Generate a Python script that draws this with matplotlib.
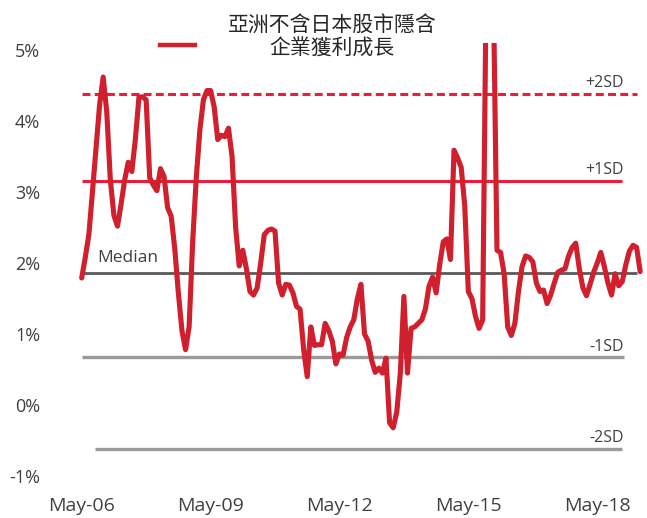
import matplotlib
matplotlib.use("Agg")
import matplotlib.pyplot as plt
from matplotlib.lines import Line2D

plt.rcParams['font.family'] = ['Open Sans', 'DejaVu Sans']

# monthly implied earnings growth, May-06 onwards (%)
growth = [1.79, 2.08, 2.40, 3.00, 3.62, 4.23, 4.62, 4.13, 3.17, 2.67,
          2.52, 2.83, 3.17, 3.42, 3.29, 3.75, 4.34, 4.34, 4.30, 3.20,
          3.10, 3.02, 3.33, 3.22, 2.78, 2.66, 2.20, 1.58, 1.05, 0.78,
          1.10, 2.30, 3.20, 3.87, 4.30, 4.43, 4.43, 4.20, 3.74, 3.80,
          3.78, 3.90, 3.50, 2.50, 1.96, 2.18, 1.92, 1.60, 1.55, 1.65,
          2.00, 2.40, 2.46, 2.48, 2.45, 1.72, 1.55, 1.70, 1.69, 1.58,
          1.39, 1.35, 0.78, 0.40, 1.10, 0.84, 0.85, 0.85, 1.15, 1.05,
          0.90, 0.58, 0.72, 0.70, 0.95, 1.10, 1.20, 1.50, 1.70, 1.00,
          0.90, 0.63, 0.46, 0.52, 0.45, 0.66, -0.25, -0.32, -0.10, 0.45,
          1.53, 0.45, 1.08, 1.10, 1.15, 1.20, 1.35, 1.67, 1.80, 1.58,
          1.98, 2.30, 2.34, 2.05, 3.59, 3.48, 3.35, 2.80, 1.60, 1.50,
          1.25, 1.08, 1.20, 6.00, 6.30, 5.80, 2.18, 2.15, 1.85, 1.10,
          0.98, 1.15, 1.60, 1.95, 2.10, 2.08, 2.02, 1.72, 1.60, 1.62,
          1.43, 1.55, 1.72, 1.87, 1.90, 1.92, 2.10, 2.22, 2.28, 1.92,
          1.65, 1.54, 1.70, 1.87, 2.00, 2.15, 1.95, 1.72, 1.55, 1.85,
          1.68, 1.74, 1.98, 2.17, 2.25, 2.22, 1.88]

# band levels (%)
band_names = ['+2SD', '+1SD', 'Median', '-1SD', '-2SD']
band_levels = [4.38, 3.16, 1.86, 0.67, -0.62]

tick_pos = [0, 36, 72, 108, 144]
tick_labels = ['May-06', 'May-09', 'May-12', 'May-15', 'May-18']
ytick_vals = [-1, 0, 1, 2, 3, 4, 5]

legend_label = '亞洲不含日本股市隱含\n企業獲利成長'

fig = plt.figure(figsize=(6.47, 5.18), dpi=100)
ax = fig.add_axes([50 / 647, 38 / 518, 595 / 647, 437 / 518])

months = list(range(len(growth)))
line_red = '#d0202e'
band_red = '#ee1c3c'

# band lines
band_style = {
    '+2SD': dict(color=band_red, lw=2.2, ls=(0, (2.6, 1.4)), span=(0, 155)),
    '+1SD': dict(color=band_red, lw=2.2, ls='-', span=(0, 151)),
    'Median': dict(color='#5a5a5a', lw=2.0, ls='-', span=(0, 155)),
    '-1SD': dict(color='#9a9a9a', lw=2.4, ls='-', span=(0, 151.5)),
    '-2SD': dict(color='#9a9a9a', lw=2.4, ls='-', span=(3.7, 151)),
}
for name, lvl in zip(band_names, band_levels):
    st = band_style[name]
    ax.hlines(lvl, st['span'][0], st['span'][1], colors=st['color'],
              linewidth=st['lw'], linestyles=[st['ls']], zorder=2)

ax.plot(months, growth, color=line_red, lw=3.7, solid_joinstyle='round',
        solid_capstyle='round', zorder=3)

# band labels
for name, lvl in zip(band_names, band_levels):
    if name == 'Median':
        ax.text(4.3, lvl + 0.21, name, fontsize=12.5, color='#404040',
                ha='left', va='center')
    else:
        ax.text(151.5, lvl + 0.15, name, fontsize=11.5, color='#404040',
                ha='right', va='center')

ax.set_xlim((50 - 81.7) / 3.58, (645 - 81.7) / 3.58)
ax.set_ylim(-1.056, 5.10)
ax.set_xticks(tick_pos)
ax.set_xticklabels(tick_labels, fontsize=14, color='#404040')
ax.set_yticks(ytick_vals)
ax.set_yticklabels([f'{v}%' for v in ytick_vals], fontsize=13, color='#404040')
ax.tick_params(axis='both', length=0)
ax.tick_params(axis='x', pad=12)
ax.tick_params(axis='y', pad=7)
for s in ax.spines.values():
    s.set_visible(False)

# legend: swatch plus centred two-line label
fig.add_artist(Line2D([160 / 647, 195 / 647], [1 - 45 / 518, 1 - 45 / 518],
                      color=line_red, lw=3.2, transform=fig.transFigure))
fig.text(332 / 647, 1 - 37 / 518, legend_label, ha='center', va='center',
         multialignment='center', fontsize=15, color='#262626', linespacing=1.1,
         family=['Noto Sans CJK TC', 'DejaVu Sans'])

fig.savefig('out.png', dpi=100, facecolor='white')
